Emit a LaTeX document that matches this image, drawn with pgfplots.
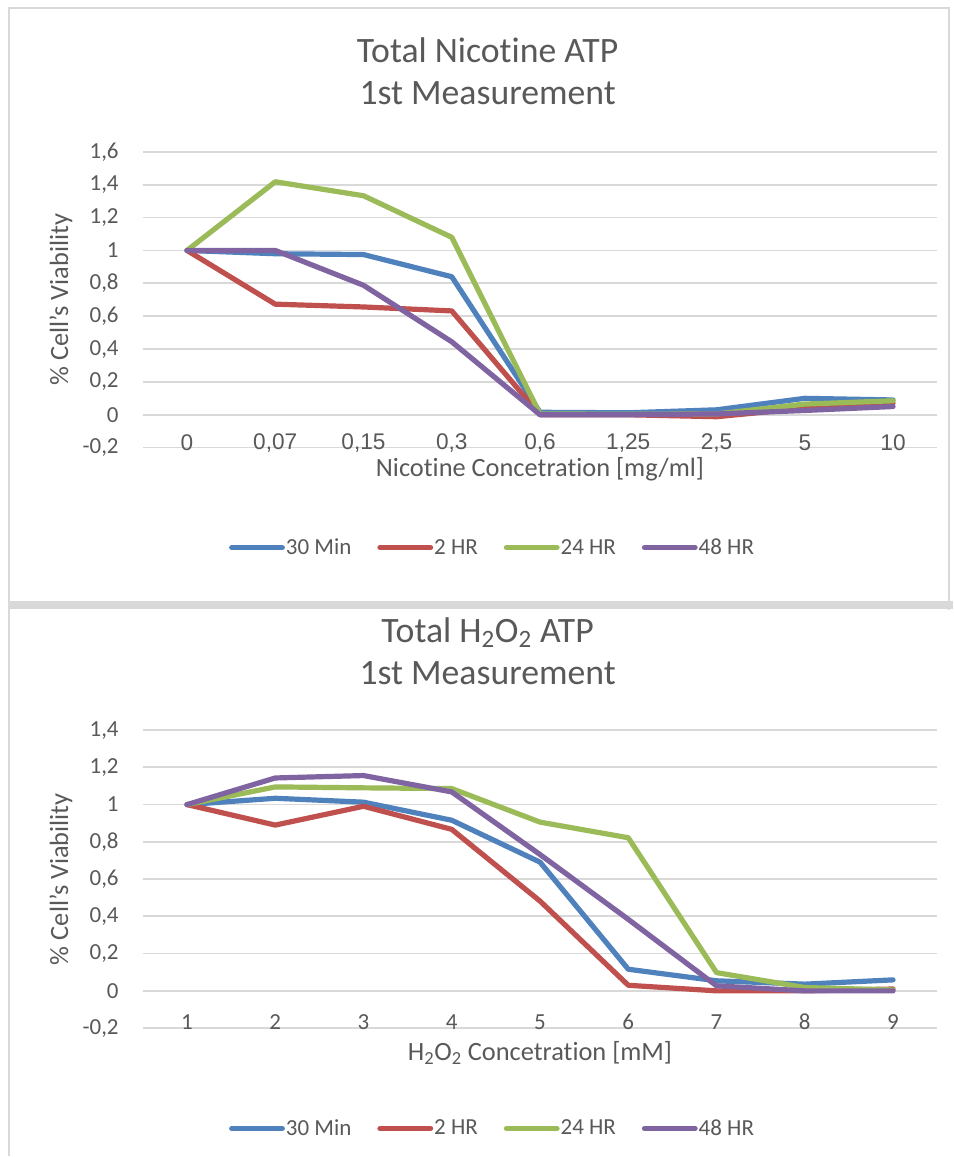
\documentclass[border=0pt]{standalone}
\usepackage{fontspec}
\setmainfont{Carlito}[Ligatures={NoCommon}]
\newfontfamily\arialf{Liberation Sans}
\usepackage{pgfplots}
\pgfplotsset{compat=1.18}
\definecolor{txt}{HTML}{595959}
\definecolor{gridc}{HTML}{D9D9D9}
\definecolor{framec}{HTML}{D9D9D9}
\definecolor{c1}{HTML}{4F81BD}
\definecolor{c2}{HTML}{C0504D}
\definecolor{c3}{HTML}{9BBB59}
\definecolor{c4}{HTML}{8064A2}
\pgfplotsset{
 excel/.style={
  scale only axis, width=596.25pt,
  axis line style={draw=none}, major tick length=0pt,
  ymajorgrids, grid style={gridc, line width=1.3pt},
  yticklabel style={anchor=east, inner sep=0pt, xshift=-18pt, font=\fontsize{17.25}{20}\selectfont, text=txt},
  xticklabel style={anchor=center, text=txt},
  every axis plot/.append style={line width=3.9pt, line join=round, line cap=round},
  legend columns=4,
  legend style={draw=none, fill=none, anchor=center, font=\fontsize{17.25}{20}\selectfont, text=txt, inner sep=0pt,
    /tikz/every even column/.append style={column sep=18.75pt}, nodes={inner xsep=0.75pt, inner ysep=0pt}},
  legend image code/.code={\draw[#1, line width=3.9pt, line cap=round] (2pt,0pt) -- (40pt,0pt);},
  every axis y label/.style={at={(axis description cs:-0.1031,0.5)}, rotate=90, anchor=center, font=\fontsize{19.8}{23}\selectfont, text=txt},
 }
}
\begin{document}
\begin{tikzpicture}
\fill[white] (0pt,0pt) rectangle (715.5pt,867.75pt);
% frames
\draw[framec, line width=1.5pt] (6.75pt,0pt) -- (6.75pt,861.75pt) -- (712.5pt,861.75pt) -- (712.5pt,410pt);
\fill[framec] (6.75pt,410.25pt) rectangle (715.5pt,416.25pt);

\begin{axis}[excel,
  at={(107.25pt,531.75pt)}, anchor=south west, height=222pt,
  xmin=-0.5, xmax=8.5, ymin=-0.2, ymax=1.6,
  xtick={0,...,8},
  xticklabels={0,{0,07},{0,15},{0,3},{0,6},{1,25},{2,5},5,10},
  xticklabel style={font=\arialf\fontsize{17}{20}\selectfont, yshift=3.4pt},
  ytick={-0.2,0,0.2,0.4,0.6,0.8,1,1.2,1.4,1.6},
  yticklabels={{-0,2},0,{0,2},{0,4},{0,6},{0,8},1,{1,2},{1,4},{1,6}},
  every axis x label/.style={at={(axis description cs:0.5,-0.098)}, anchor=base, font=\fontsize{19.8}{23}\selectfont, text=txt},
  xlabel={Nicotine Concetration [mg/ml]},
  ylabel={\% Cell's Viability},
  legend style={at={(axis description cs:0.4396,-0.338)}},
  extra description/.code={
    \node[font=\fontsize{26.8}{31.5}\selectfont, text=txt, anchor=base] at (axis description cs:0.434,1.3007) {Total Nicotine ATP};
    \node[font=\fontsize{26.8}{31.5}\selectfont, text=txt, anchor=base] at (axis description cs:0.434,1.1588) {1st Measurement};
  },
]
\addplot[c1] coordinates {(0,1) (1,0.98) (2,0.975) (3,0.84) (4,0.015) (5,0.012) (6,0.03) (7,0.10) (8,0.09)};
\addlegendentry{30 Min}
\addplot[c2] coordinates {(0,1) (1,0.673) (2,0.656) (3,0.632) (4,0.0) (5,0.0) (6,-0.012) (7,0.04) (8,0.07)};
\addlegendentry{2 HR}
\addplot[c3] coordinates {(0,1) (1,1.418) (2,1.333) (3,1.08) (4,0.005) (5,0.003) (6,0.005) (7,0.065) (8,0.085)};
\addlegendentry{24 HR}
\addplot[c4] coordinates {(0,1) (1,1.0) (2,0.788) (3,0.444) (4,0.0) (5,0.0) (6,0.005) (7,0.026) (8,0.05)};
\addlegendentry{48 HR}
\end{axis}

\begin{axis}[excel,
  at={(107.25pt,96pt)}, anchor=south west, height=223.7pt,
  xmin=0.5, xmax=9.5, ymin=-0.2, ymax=1.4,
  xtick={1,...,9},
  xticklabels={1,2,3,4,5,6,7,8,9},
  xticklabel style={font=\fontsize{17.25}{20}\selectfont, yshift=4.5pt},
  ytick={-0.2,0,0.2,0.4,0.6,0.8,1,1.2,1.4},
  yticklabels={{-0,2},0,{0,2},{0,4},{0,6},{0,8},1,{1,2},{1,4}},
  every axis x label/.style={at={(axis description cs:0.5,-0.108)}, anchor=base, font=\fontsize{19.8}{23}\selectfont, text=txt},
  xlabel={H\textsubscript{2}O\textsubscript{2} Concetration [mM]},
  ylabel={\% Cell's Viability},
  legend style={at={(axis description cs:0.4396,-0.337)}},
  extra description/.code={
    \node[font=\fontsize{26.8}{31.5}\selectfont, text=txt, anchor=base] at (axis description cs:0.434,1.294) {Total H\textsubscript{2}O\textsubscript{2} ATP};
    \node[font=\fontsize{26.8}{31.5}\selectfont, text=txt, anchor=base] at (axis description cs:0.434,1.1532) {1st Measurement};
  },
]
\addplot[c1] coordinates {(1,1) (2,1.034) (3,1.013) (4,0.916) (5,0.691) (6,0.116) (7,0.054) (8,0.036) (9,0.059)};
\addlegendentry{30 Min}
\addplot[c2] coordinates {(1,1) (2,0.89) (3,0.991) (4,0.867) (5,0.482) (6,0.03) (7,0.0) (8,0.0) (9,0.01)};
\addlegendentry{2 HR}
\addplot[c3] coordinates {(1,1) (2,1.095) (3,1.09) (4,1.086) (5,0.906) (6,0.822) (7,0.098) (8,0.018) (9,0.005)};
\addlegendentry{24 HR}
\addplot[c4] coordinates {(1,1) (2,1.143) (3,1.156) (4,1.068) (5,0.732) (6,0.384) (7,0.027) (8,0.0) (9,0.0)};
\addlegendentry{48 HR}
\end{axis}
\end{tikzpicture}
\end{document}
